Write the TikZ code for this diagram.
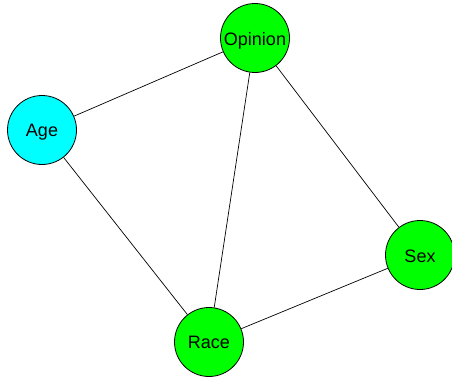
\documentclass[tikz,border=0pt]{standalone}
\usepackage{fontspec}
\setmainfont{Liberation Sans}
\definecolor{vgreen}{RGB}{0,255,0}
\definecolor{vcyan}{RGB}{0,255,255}
\begin{document}
\begin{tikzpicture}[x=1pt,y=-1pt,
  var/.style={circle,draw=black,line width=0.8pt,minimum size=69pt,inner sep=0pt,
    font=\fontsize{18}{20}\selectfont,text depth=0pt},
  edge/.style={draw=black,line width=0.7pt}]
  \useasboundingbox (0,0) rectangle (452,380);
  \node[var,fill=vgreen] (opinion) at (255,38) {\raisebox{-1.5pt}{Opinion}};
  \node[var,fill=vcyan]  (age)     at (42,130) {\raisebox{-1.5pt}{Age}};
  \node[var,fill=vgreen] (sex)     at (420,255) {\raisebox{-1.5pt}{Sex}};
  \node[var,fill=vgreen] (race)    at (209,342) {\raisebox{-1.5pt}{Race}};
  \draw[edge] (age) -- (opinion);
  \draw[edge] (opinion) -- (race);
  \draw[edge] (opinion) -- (sex);
  \draw[edge] (age) -- (race);
  \draw[edge] (race) -- (sex);
\end{tikzpicture}
\end{document}
